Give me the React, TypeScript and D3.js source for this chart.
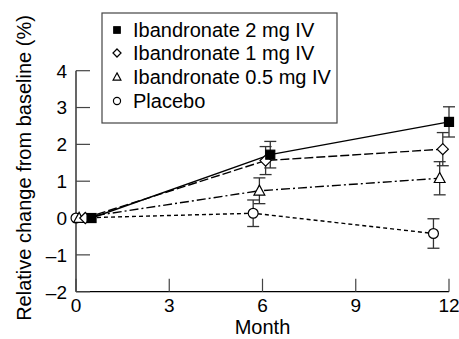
import React from "react";
import * as d3 from "d3";

const W = 459, H = 339;
const xTicks = [0, 3, 6, 9, 12];
const yTicks = [-2, -1, 0, 1, 2, 3, 4];

const seriesNames = ["Ibandronate 2 mg IV", "Ibandronate 1 mg IV", "Ibandronate 0.5 mg IV", "Placebo"];
const months2 = [0.5, 6.25, 12];
const vals2 = [0, 1.72, 2.61];
const err2 = [0, 0.36, 0.41];
const months1 = [0.3, 6.1, 11.8];
const vals1 = [0, 1.56, 1.87];
const err1 = [0, 0.38, 0.45];
const months05 = [0.1, 5.9, 11.7];
const vals05 = [0, 0.74, 1.08];
const err05 = [0, 0.35, 0.45];
const monthsP = [0, 5.7, 11.5];
const valsP = [0, 0.13, -0.42];
const errP = [0, 0.36, 0.4];

const FONT = "'Liberation Sans', Arial, sans-serif";

type Series = { name: string; months: number[]; vals: number[]; errs: number[]; marker: string; dash: string };
const series: Series[] = [
  { name: seriesNames[3], months: monthsP, vals: valsP, errs: errP, marker: "circle", dash: "4,3" },
  { name: seriesNames[2], months: months05, vals: vals05, errs: err05, marker: "triangle", dash: "9,3,2,3" },
  { name: seriesNames[1], months: months1, vals: vals1, errs: err1, marker: "diamond", dash: "9,3" },
  { name: seriesNames[0], months: months2, vals: vals2, errs: err2, marker: "square", dash: "" },
];

function Marker({ type, cx, cy, s }: { type: string; cx: number; cy: number; s: number }) {
  const sw = 1.2;
  if (type === "square")
    return <rect x={cx - s / 2} y={cy - s / 2} width={s} height={s} fill="#000" stroke="#000" strokeWidth={sw} />;
  if (type === "diamond") {
    const r = s * 0.62;
    return <path d={`M${cx},${cy - r}L${cx + r},${cy}L${cx},${cy + r}L${cx - r},${cy}Z`} fill="#fff" stroke="#000" strokeWidth={sw} />;
  }
  if (type === "triangle") {
    const h = s * 1.05;
    return <path d={`M${cx},${cy - h * 0.6}L${cx + s * 0.6},${cy + h * 0.45}L${cx - s * 0.6},${cy + h * 0.45}Z`} fill="#fff" stroke="#000" strokeWidth={sw} />;
  }
  return <circle cx={cx} cy={cy} r={s * 0.55} fill="#fff" stroke="#000" strokeWidth={sw} />;
}

export default function App() {
  const x = d3.scaleLinear().domain([0, 12]).range([76, 449]);
  const y = d3.scaleLinear().domain([-2, 4]).range([291.7, 70.7]);
  const line = d3.line<[number, number]>().x((d) => x(d[0])).y((d) => y(d[1]));
  const legendY = [30, 53, 77, 101];
  const legendMarkers = ["square", "diamond", "triangle", "circle"];

  return (
    <svg width={W} height={H} style={{ position: "absolute", left: 0, top: 0, background: "#fff" }} fontFamily={FONT}>
      {/* axes */}
      <line x1={x(0)} x2={x(0)} y1={y(4)} y2={y(-2)} stroke="#000" strokeWidth={1.2} />
      <line x1={x(0)} x2={x(12)} y1={y(-2)} y2={y(-2)} stroke="#000" strokeWidth={1.2} />
      {yTicks.map((t) => (
        <g key={"y" + t}>
          <line x1={x(0)} x2={x(0) + 14} y1={y(t)} y2={y(t)} stroke="#444" strokeWidth={1.2} />
          <text x={x(0) - 9} y={y(t)} dy="0.36em" textAnchor="end" fontSize={19}>
            {t < 0 ? "–" + Math.abs(t) : String(t)}
          </text>
        </g>
      ))}
      {xTicks.map((t) => (
        <g key={"x" + t}>
          <line x1={x(t)} x2={x(t)} y1={y(-2)} y2={y(-2) - 13} stroke="#444" strokeWidth={1.2} />
          <text x={x(t)} y={311.5} textAnchor="middle" fontSize={19}>
            {t}
          </text>
        </g>
      ))}
      <text x={(x(0) + x(12)) / 2} y={334} textAnchor="middle" fontSize={20}>
        Month
      </text>
      <text transform={`translate(31,168) rotate(-90)`} textAnchor="middle" fontSize={20}>
        Relative change from baseline (%)
      </text>

      {/* lines */}
      {series.map((s) => (
        <path
          key={"l" + s.name}
          d={line(s.months.map((m, i) => [m, s.vals[i]] as [number, number])) || ""}
          fill="none"
          stroke="#000"
          strokeWidth={1.4}
          strokeDasharray={s.dash}
        />
      ))}
      {/* error bars */}
      {series.map((s) =>
        s.months.map((m, i) =>
          s.errs[i] > 0 ? (
            <g key={"e" + s.name + i} stroke="#333" strokeWidth={1.3}>
              <line x1={x(m)} x2={x(m)} y1={y(s.vals[i] + s.errs[i])} y2={y(s.vals[i] - s.errs[i])} />
              <line x1={x(m) - 6} x2={x(m) + 6} y1={y(s.vals[i] + s.errs[i])} y2={y(s.vals[i] + s.errs[i])} />
              <line x1={x(m) - 6} x2={x(m) + 6} y1={y(s.vals[i] - s.errs[i])} y2={y(s.vals[i] - s.errs[i])} />
            </g>
          ) : null
        )
      )}
      {/* markers */}
      {series.map((s) =>
        s.months.map((m, i) => <Marker key={"m" + s.name + i} type={s.marker} cx={x(m)} cy={y(s.vals[i])} s={9} />)
      )}

      {/* legend */}
      <rect x={102} y={13} width={235} height={110} fill="#fff" stroke="#444" strokeWidth={1.2} />
      {seriesNames.map((n, i) => (
        <g key={"lg" + n}>
          <Marker type={legendMarkers[i]} cx={117} cy={legendY[i]} s={6.5} />
          <text x={133} y={legendY[i]} dy="0.36em" fontSize={20}>
            {n}
          </text>
        </g>
      ))}
    </svg>
  );
}
